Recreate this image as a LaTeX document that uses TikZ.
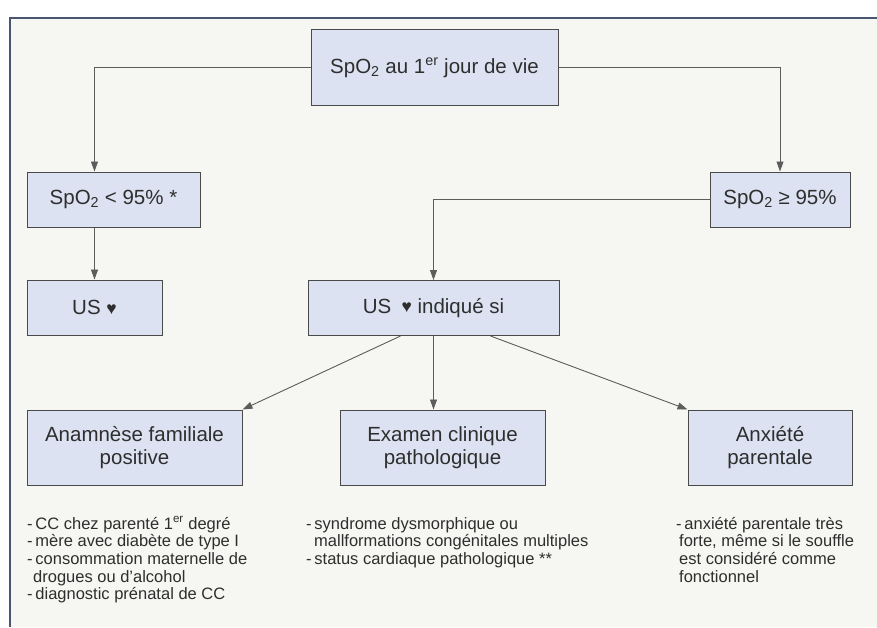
\documentclass[tikz,border=0pt]{standalone}
\usepackage{fontspec}
\setmainfont{Liberation Sans}
\usetikzlibrary{arrows.meta,calc}
\definecolor{boxfill}{HTML}{DCE2F1}
\definecolor{boxline}{HTML}{4A4A4A}
\definecolor{txt}{HTML}{2E2E2E}
\definecolor{bg}{HTML}{F6F7F3}
\definecolor{frame}{HTML}{4A5670}
\newcommand{\hrt}{\raisebox{0.5pt}{\scalebox{0.85}{♥}}}
\tikzset{
  box/.style={draw=boxline, fill=boxfill, line width=1pt, text=txt, align=center, inner sep=2pt, font=\fontsize{20.5}{23}\selectfont},
  conn/.style={draw=boxline!90, line width=0.9pt, -{Triangle[length=10pt,width=7pt]}},
  listtxt/.style={anchor=north west, align=left, text=txt, inner sep=0pt, font=\fontsize{16.5}{17.6}\selectfont},
}
\begin{document}
\begin{tikzpicture}[x=1pt,y=-1pt]
\useasboundingbox (0,0) rectangle (877,627);
\fill[white] (0,0) rectangle (877,627);
\fill[bg] (10,18) rectangle (877,627);
\draw[frame, line width=1.5pt] (10,627) -- (10,18) -- (877,18);

\node[box, minimum width=247pt, minimum height=76pt] (top) at (434.5,67.5) {SpO\textsubscript{2} au 1\textsuperscript{er} jour de vie};
\node[box, minimum width=173pt, minimum height=55pt] (low) at (113.5,199.5) {SpO\textsubscript{2} < 95\% *};
\node[box, minimum width=140pt, minimum height=55pt] (high) at (780,199.5) {SpO\textsubscript{2} ≥ 95\%};
\node[box, minimum width=135pt, minimum height=55pt] (us) at (94.5,307.5) {US \hrt};
\node[box, minimum width=251pt, minimum height=55pt] (usi) at (433.5,308) {US\enspace\hrt\ indiqué si};
\node[box, minimum width=215pt, minimum height=75pt] (ana) at (134.5,447.5) {Anamnèse familiale\\positive};
\node[box, minimum width=205pt, minimum height=75pt] (exam) at (442.5,447.5) {Examen clinique\\pathologique};
\node[box, minimum width=164pt, minimum height=75pt] (anx) at (770,447.5) {Anxiété\\parentale};

\draw[conn] (top.west) -| (us.north |- low.north);
\draw[conn] (top.east) -| (high.north);
\draw[conn] (us.north |- low.south) -- (us.north);
\draw[conn] (high.west) -| (usi.north);
\draw[conn] ($(usi.south)+(-33,0)$) -- (ana.north east);
\draw[conn] (usi.south) -- (usi.south |- exam.north);
\draw[conn] ($(usi.south)+(57,0)$) -- (anx.north west);

\node[listtxt] (l1) at (27,516) {\rule{0pt}{13pt}-\,CC chez parenté 1\textsuperscript{er} degré\\-\,mère avec diabète de type I\\-\,consommation maternelle de\\\hspace*{6pt}drogues ou d'alcohol\\-\,diagnostic prénatal de CC};
\node[listtxt] (l2) at (306,516) {\rule{0pt}{13pt}-\,syndrome dysmorphique ou\\\hspace*{8pt}mallformations congénitales multiples\\-\,status cardiaque pathologique **};
\node[listtxt] (l3) at (676,516) {\rule{0pt}{13pt}-\,anxiété parentale très\\\hspace*{3pt}forte, même si le souffle\\\hspace*{3pt}est considéré comme\\\hspace*{3pt}fonctionnel};
\end{tikzpicture}
\end{document}
